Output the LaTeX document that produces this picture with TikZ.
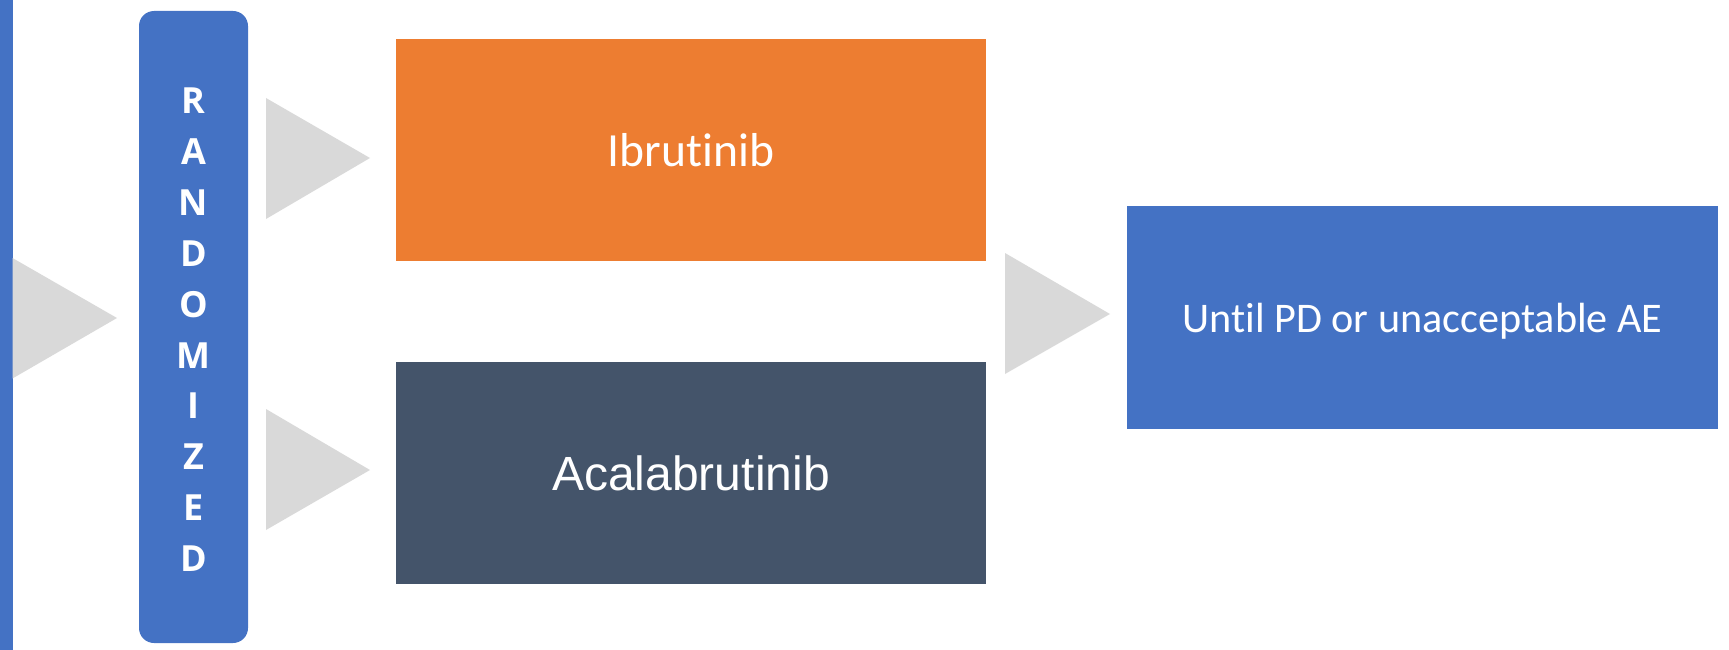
\documentclass[tikz,border=0pt]{standalone}
\usepackage{fontspec}
\newfontfamily\carlito[Ligatures=NoCommon]{Carlito}
\newfontfamily\arialish{Liberation Sans}
\newfontfamily\opensans{Open Sans}
\definecolor{accblue}{HTML}{4472C4}
\definecolor{accorange}{HTML}{ED7D31}
\definecolor{slate}{HTML}{44546A}
\definecolor{chevron}{HTML}{D9D9D9}

\begin{document}
\begin{tikzpicture}[x=1pt,y=-1pt,
  every node/.style={inner sep=0pt, outer sep=0pt, text=white, text depth=0pt},
  armbox/.style={minimum width=590pt, minimum height=222pt},
  letter/.style={anchor=base, font=\opensans\bfseries\fontsize{36}{40}\selectfont},
  arrowhead/.style={fill=chevron}]
\useasboundingbox (0,0) rectangle (1729,650);

% left edge band
\fill[accblue] (0,0) rectangle (12.5,650);

% randomisation column
\node[fill=accblue, rounded corners=15pt, minimum width=109pt, minimum height=632pt, anchor=north west] (rand) at (139,11) {};
\foreach \ch [count=\i from 0] in {R,A,N,D,O,M,I,Z,E,D}
  \node[letter] (rl\i) at (193.5,{113.5+50.9*\i}) {\ch};

% treatment arms
\node[armbox, fill=accorange, font=\carlito\fontsize{47.6}{57}\selectfont] (ibr) at (691,150) {Ibrutinib};
\node[armbox, fill=slate, font=\arialish\fontsize{48}{58}\selectfont] (acal) at (691,473) {Acalabrutinib};

% end point
\node[minimum width=591pt, minimum height=223pt, fill=accblue, font=\carlito\fontsize{42.2}{50}\selectfont] (endpt) at (1422.5,317.5) {Until PD or unacceptable AE};

% chevrons
\fill[arrowhead] (12.5,258) -- (117,318) -- (12.5,378.5) -- cycle;
\fill[arrowhead] (266,98) -- (370,158) -- (266,219) -- cycle;
\fill[arrowhead] (266,409) -- (370,470) -- (266,530) -- cycle;
\fill[arrowhead] (1005,253) -- (1110,314) -- (1005,374) -- cycle;
\end{tikzpicture}
\end{document}
